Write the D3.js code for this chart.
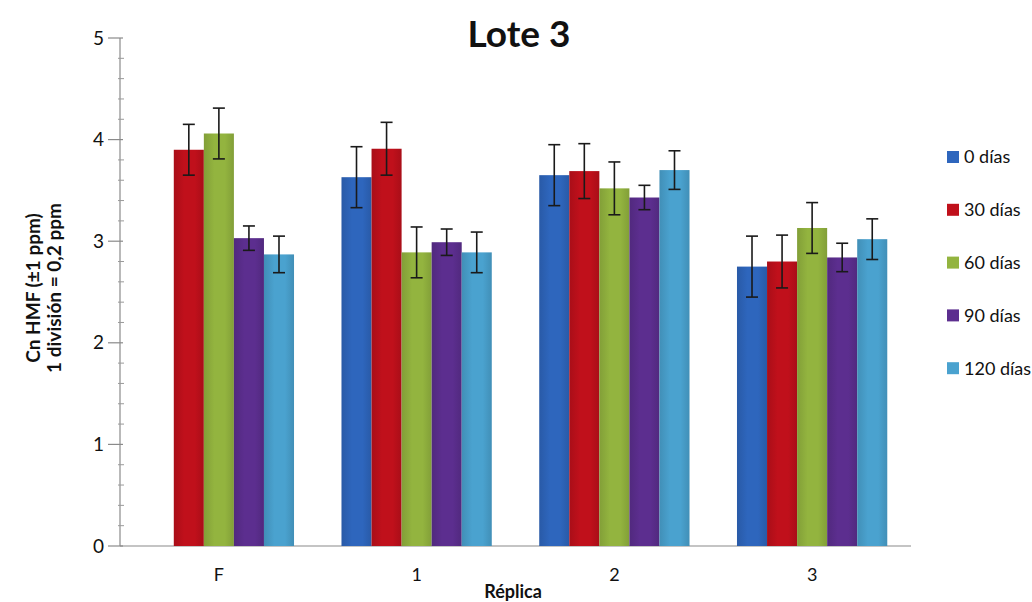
<!DOCTYPE html>
<html lang="es">
<head>
<meta charset="utf-8">
<title>Lote 3</title>
<script src="https://cdn.jsdelivr.net/npm/d3@7"></script>
<style>
  body { margin: 0; background: #fff; }
  text { font-family: Lato, "Open Sans", sans-serif; fill: #111; }
</style>
</head>
<body>
<div id="chart"></div>
<script>
// categories and series
const replicas = ["F", "1", "2", "3"];
const series = ["0 días", "30 días", "60 días", "90 días", "120 días"];
const colors = ["#2e66bd", "#c0101b", "#93b43f", "#5c2e8f", "#4aa2cf"];

// mean values per series (one per replica)
const dias0   = [0,    3.63, 3.65, 2.75];
const dias30  = [3.90, 3.91, 3.69, 2.80];
const dias60  = [4.06, 2.89, 3.52, 3.13];
const dias90  = [3.03, 2.99, 3.43, 2.84];
const dias120 = [2.87, 2.89, 3.70, 3.02];

// error bar half-lengths
const err0   = [0,    0.30, 0.30, 0.30];
const err30  = [0.25, 0.26, 0.27, 0.26];
const err60  = [0.25, 0.25, 0.26, 0.25];
const err90  = [0.12, 0.13, 0.12, 0.14];
const err120 = [0.18, 0.20, 0.19, 0.20];

const values = [dias0, dias30, dias60, dias90, dias120];
const errors = [err0, err30, err60, err90, err120];
const yTicks = [0, 1, 2, 3, 4, 5];

const W = 1032, H = 602;
const margin = {top: 38, right: 121, bottom: 56, left: 120};
const w = W - margin.left - margin.right;
const h = H - margin.top - margin.bottom;

const svg = d3.select("#chart").append("svg")
  .attr("width", W).attr("height", H);

// slight side shading on the bars, like the old spreadsheet look
const defs = svg.append("defs");
colors.forEach((c, i) => {
  const g = defs.append("linearGradient").attr("id", "grad" + i)
    .attr("x1", "0%").attr("x2", "100%").attr("y1", "0%").attr("y2", "0%");
  const dark = d3.color(c).darker(0.35);
  g.append("stop").attr("offset", "0%").attr("stop-color", dark);
  g.append("stop").attr("offset", "35%").attr("stop-color", c);
  g.append("stop").attr("offset", "70%").attr("stop-color", c);
  g.append("stop").attr("offset", "100%").attr("stop-color", dark);
});

const g = svg.append("g")
  .attr("transform", "translate(" + margin.left + "," + margin.top + ")");

const x0 = d3.scaleBand().domain(replicas).range([0, w]).paddingInner(0).paddingOuter(0);
const groupW = x0.bandwidth() * 0.76;
const x1 = d3.scaleBand().domain(d3.range(series.length))
  .range([(x0.bandwidth() - groupW) / 2, (x0.bandwidth() + groupW) / 2]).padding(0);

const y = d3.scaleLinear().domain([0, 5]).range([h, 0]);

// y axis: major ticks crossing, minor ticks every 0.2
const yAxis = g.append("g").attr("class", "axis y");
yAxis.append("line")
  .attr("x1", 0).attr("x2", 0).attr("y1", y(0)).attr("y2", y(5))
  .attr("stroke", "#8a8a8a").attr("stroke-width", 1.2);
const minor = d3.range(0, 25).map(d => d / 5).filter(d => d % 1 !== 0);
yAxis.selectAll(".minor").data(minor).enter().append("line")
  .attr("x1", -2).attr("x2", 4)
  .attr("y1", d => y(d)).attr("y2", d => y(d))
  .attr("stroke", "#9a9a9a").attr("stroke-width", 1);
yAxis.selectAll(".major").data(yTicks).enter().append("line")
  .attr("x1", -12).attr("x2", 3)
  .attr("y1", d => y(d)).attr("y2", d => y(d))
  .attr("stroke", "#8a8a8a").attr("stroke-width", 1.2);
yAxis.selectAll(".lbl").data(yTicks).enter().append("text")
  .attr("x", -16).attr("y", d => y(d)).attr("dy", "0.35em")
  .attr("text-anchor", "end").attr("font-size", 19)
  .text(d => d);

// x axis line
g.append("line")
  .attr("x1", 0).attr("x2", w).attr("y1", y(0)).attr("y2", y(0))
  .attr("stroke", "#8a8a8a").attr("stroke-width", 1.2);

// bars
const groups = g.selectAll(".grp").data(replicas).enter().append("g")
  .attr("transform", d => "translate(" + x0(d) + ",0)");

groups.each(function(rep, ri) {
  const sel = d3.select(this);
  series.forEach((s, si) => {
    const v = values[si][ri];
    const e = errors[si][ri];
    if (v <= 0) return;
    sel.append("rect")
      .attr("x", x1(si)).attr("width", x1.bandwidth())
      .attr("y", y(v)).attr("height", y(0) - y(v))
      .attr("fill", "url(#grad" + si + ")");
    if (e > 0) {
      const cx = x1(si) + x1.bandwidth() / 2;
      const eb = sel.append("g").attr("stroke", "#1a1a1a").attr("stroke-width", 1.6);
      eb.append("line").attr("x1", cx).attr("x2", cx).attr("y1", y(v - e)).attr("y2", y(v + e));
      eb.append("line").attr("x1", cx - 6).attr("x2", cx + 6).attr("y1", y(v + e)).attr("y2", y(v + e));
      eb.append("line").attr("x1", cx - 6).attr("x2", cx + 6).attr("y1", y(v - e)).attr("y2", y(v - e));
    }
  });
});

// x tick labels
g.selectAll(".xl").data(replicas).enter().append("text")
  .attr("x", d => x0(d) + x0.bandwidth() / 2).attr("y", h + 35)
  .attr("text-anchor", "middle").attr("font-size", 18)
  .text(d => d);

// x axis title
g.append("text")
  .attr("x", 393).attr("y", h + 52)
  .attr("text-anchor", "middle").attr("font-size", 18).attr("font-weight", "bold")
  .text("Réplica");

// title
svg.append("text")
  .attr("x", 519).attr("y", 47)
  .attr("text-anchor", "middle").attr("font-size", 37).attr("font-weight", "bold")
  .text("Lote 3");

// y axis title (two lines)
const yt = svg.append("text")
  .attr("transform", "translate(47,288) rotate(-90)")
  .attr("text-anchor", "middle").attr("font-size", 19).attr("font-weight", "bold");
yt.append("tspan").attr("x", 0).attr("dy", "-0.35em").text("Cn HMF (±1 ppm)");
yt.append("tspan").attr("x", 0).attr("dy", "1.1em").text("1 división = 0,2 ppm");

// legend
const legend = svg.append("g").attr("transform", "translate(947,157)");
const li = legend.selectAll(".li").data(series).enter().append("g")
  .attr("transform", (d, i) => "translate(0," + i * 52.8 + ")");
li.append("rect").attr("x", 0).attr("y", -6).attr("width", 12).attr("height", 12)
  .attr("fill", (d, i) => colors[i]);
li.append("text").attr("x", 17).attr("y", 0).attr("dy", "0.35em")
  .attr("font-size", 18).text(d => d);
</script>
</body>
</html>
